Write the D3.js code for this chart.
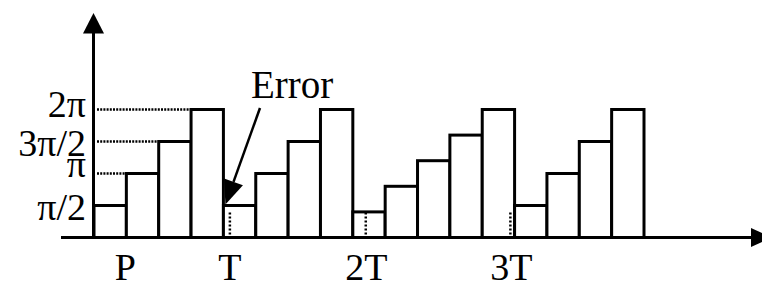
<!DOCTYPE html>
<html>
<head>
<meta charset="utf-8">
<script src="https://cdn.jsdelivr.net/npm/d3@7"></script>
<style>
  body { margin: 0; background: #fff; }
  text { font-family: "Liberation Serif", "Times New Roman", serif; fill: #000; }
</style>
</head>
<body>
<svg id="chart" width="762" height="289"></svg>
<script>
// phase of each sample, in multiples of pi
var phases = [0.5, 1, 1.5, 2,  0.5, 1, 1.5, 2,  0.4, 0.8, 1.2, 1.6, 2,  0.5, 1, 1.5, 2];
var yTicks = [0.5, 1, 1.5, 2];
var yTickLabels = ["\u03c0/2", "\u03c0", "3\u03c0/2", "2\u03c0"];
var guideBars = [null, 1, 2, 3];           // bar whose left edge ends each dotted guide
var timeLabels = ["P", "T", "2T", "3T"];
var timeSlots = [0.97, 4.2, 8.42, 12.9];   // position in bar slots
var markerSlots = [4.2, 8.4, 12.87];       // true sampling instants (dotted)

var svg = d3.select('#chart');

var x = d3.scaleLinear().domain([0, phases.length]).range([94, 644]);
var y = d3.scaleLinear().domain([0, 2]).range([237.5, 109.5]);

// bars
svg.append('g').selectAll('rect')
  .data(phases)
  .enter().append('rect')
    .attr('x', function(d, i) { return x(i); })
    .attr('y', function(d) { return y(d); })
    .attr('width', x(1) - x(0))
    .attr('height', function(d) { return y(0) - y(d); })
    .attr('fill', '#fff')
    .attr('stroke', '#000')
    .attr('stroke-width', 3);

// dotted guides from the axis
svg.append('g').selectAll('line')
  .data(yTicks.filter(function(d, i) { return guideBars[i] !== null; }))
  .enter().append('line')
    .attr('x1', 97)
    .attr('x2', function(d) { return x(guideBars[yTicks.indexOf(d)]) - 1; })
    .attr('y1', function(d) { return y(d); })
    .attr('y2', function(d) { return y(d); })
    .attr('stroke', '#000')
    .attr('stroke-width', 2.5)
    .attr('stroke-dasharray', '2,1.2');

// dotted markers at T, 2T, 3T
svg.append('g').selectAll('line')
  .data(markerSlots)
  .enter().append('line')
    .attr('x1', function(d) { return x(d); })
    .attr('x2', function(d) { return x(d); })
    .attr('y1', y(0) - 3)
    .attr('y2', y(0.42))
    .attr('stroke', '#000')
    .attr('stroke-width', 2.5)
    .attr('stroke-dasharray', '2,2');

// axes
svg.append('line')
  .attr('x1', 93.5).attr('x2', 93.5)
  .attr('y1', 30).attr('y2', y(0))
  .attr('stroke', '#000').attr('stroke-width', 3);
svg.append('path')
  .attr('d', d3.line()([[93.5, 13], [83, 33.5], [104, 33.5]]) + 'Z')
  .attr('fill', '#000');

svg.append('line')
  .attr('x1', 61).attr('x2', 755)
  .attr('y1', y(0)).attr('y2', y(0))
  .attr('stroke', '#000').attr('stroke-width', 3);
svg.append('path')
  .attr('d', d3.line()([[772, y(0)], [751, y(0) - 9.5], [751, y(0) + 9.5]]) + 'Z')
  .attr('fill', '#000');

// y labels (a few nudged, they are crowded)
var labelNudge = [1, -10, 1, -6];
svg.append('g').selectAll('text')
  .data(yTicks)
  .enter().append('text')
    .attr('x', 86)
    .attr('y', function(d, i) { return y(d) + 13 + labelNudge[i]; })
    .attr('text-anchor', 'end')
    .style('font-size', '38px')
    .text(function(d, i) { return yTickLabels[i]; });

// time labels
svg.append('g').selectAll('text')
  .data(timeLabels)
  .enter().append('text')
    .attr('x', function(d, i) { return x(timeSlots[i]); })
    .attr('y', 280)
    .attr('text-anchor', 'middle')
    .style('font-size', '38px')
    .text(function(d) { return d; });

// "Error" annotation
var tip = [x(4) + 2, y(0.5) - 1];
var tail = [260, 108];
var ang = Math.atan2(tip[1] - tail[1], tip[0] - tail[0]);
var hl = 24, hw = 10;
var base = [tip[0] - hl * Math.cos(ang), tip[1] - hl * Math.sin(ang)];
svg.append('line')
  .attr('x1', tail[0]).attr('y1', tail[1])
  .attr('x2', base[0]).attr('y2', base[1])
  .attr('stroke', '#000').attr('stroke-width', 2.5);
svg.append('path')
  .attr('d', d3.line()([
    tip,
    [base[0] + hw * Math.sin(ang), base[1] - hw * Math.cos(ang)],
    [base[0] - hw * Math.sin(ang), base[1] + hw * Math.cos(ang)]
  ]) + 'Z')
  .attr('fill', '#000');

svg.append('text')
  .attr('x', 251)
  .attr('y', 98)
  .style('font-size', '39px')
  .text('Error');
</script>
</body>
</html>
